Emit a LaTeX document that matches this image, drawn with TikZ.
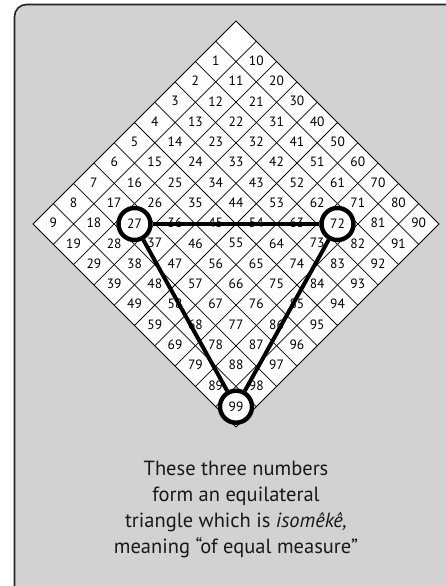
\documentclass[tikz,border=0pt]{standalone}
\usepackage{fontspec}
\setmainfont{PT Sans}
\definecolor{bggray}{RGB}{211,209,211}
\tikzset{
  gridline/.style={draw=black, line width=0.75pt},
  num/.style={font=\fontsize{13.5}{13.5}\selectfont, inner sep=0pt, yshift=1pt},
  ring/.style={circle, draw=black, fill=white, line width=4.4pt, minimum size=32pt, inner sep=0pt, font=\fontsize{13.5}{13.5}\selectfont},
  tri/.style={draw=black, line width=4pt},
  caption/.style={align=center, font=\fontsize{20.5}{25.8}\selectfont, text=black!90}
}
\begin{document}
\begin{tikzpicture}[x=1pt,y=-1pt]
\def\d{20.3}
\useasboundingbox (0,0) rectangle (446,586);
\clip (0,0) rectangle (446,586);
\fill[white] (0,0) rectangle (446,586);
\draw[fill=bggray, draw=black!85, line width=1.6pt, rounded corners=12pt] (14.5,4.5) rectangle (460,600);
% diamond grid
\fill[white] (236,21) -- ({236+10*\d},{21+10*\d}) -- (236,{21+20*\d}) -- ({236-10*\d},{21+10*\d}) -- cycle;
\foreach \k in {0,...,10} {
  \draw[gridline] ({236+\k*\d},{21+\k*\d}) -- ({236+(\k-10)*\d},{21+(\k+10)*\d});
  \draw[gridline] ({236-\k*\d},{21+\k*\d}) -- ({236+(10-\k)*\d},{21+(10+\k)*\d});
}
% numbers
\foreach \i in {0,...,9}{
  \foreach \j in {0,...,9}{
    \pgfmathtruncatemacro\n{10*\i+\j}
    \ifnum\n=0 \else\ifnum\n=27 \else\ifnum\n=72 \else\ifnum\n=99 \else
      \node[num] (n\n) at ({236+(\i-\j)*\d},{21+(\i+\j+1)*\d}) {\n};
    \fi\fi\fi\fi
  }
}
% ringed numbers
\node[ring] (n27) at ({236-5*\d},{21+10*\d}) {27};
\node[ring] (n72) at ({236+5*\d},{21+10*\d}) {72};
\node[ring] (n99) at (236,{21+19*\d}) {99};
% triangle
\draw[tri] (n27) -- (n72);
\draw[tri] (n27) -- (n99);
\draw[tri] (n72) -- (n99);
% caption
\node[caption, anchor=base] (cap) at (236,553) {These three numbers\\form an equilateral\\triangle which is \textit{isomêkê,}\\meaning “of equal measure”};
\end{tikzpicture}
\end{document}
